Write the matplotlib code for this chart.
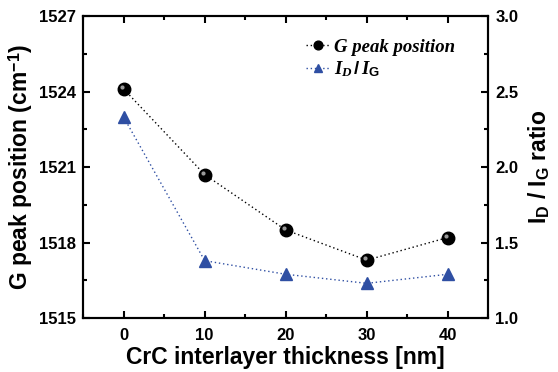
import matplotlib.pyplot as plt
from matplotlib.ticker import MultipleLocator
from matplotlib.transforms import ScaledTranslation

plt.rcParams['font.family'] = 'Liberation Sans'
plt.rcParams['font.weight'] = 'bold'
plt.rcParams['mathtext.fontset'] = 'custom'
plt.rcParams['mathtext.rm'] = 'Liberation Sans:bold'
plt.rcParams['mathtext.it'] = 'Liberation Serif:italic:bold'
plt.rcParams['mathtext.bf'] = 'Liberation Sans:bold'
plt.rcParams['mathtext.sf'] = 'Liberation Sans'

thickness = [0, 10, 20, 30, 40]
g_peak = [1524.1, 1520.7, 1518.5, 1517.3, 1518.2]
id_ig = [2.33, 1.38, 1.29, 1.23, 1.29]

blue = "#2f4fa3"

fig = plt.figure(figsize=(5.58, 3.72), dpi=100)
ax1 = fig.add_axes([0.149, 0.145, 0.726, 0.812])
ax2 = ax1.twinx()

l1, = ax1.plot(thickness, g_peak, color="black", linestyle=(0, (1, 2)), linewidth=1,
               marker="o", markersize=9, markerfacecolor="black", markeredgecolor="black",
               label="G peak position")
# small highlight on the spheres, shifted up-left
shift = ScaledTranslation(-1.2 / 72, 1.2 / 72, fig.dpi_scale_trans)
ax1.plot(thickness, g_peak, linestyle="none", marker="o", markersize=3,
         markerfacecolor="#9a9a9a", markeredgecolor="none",
         transform=ax1.transData + shift)
l2, = ax2.plot(thickness, id_ig, color=blue, linestyle=(0, (1, 2)), linewidth=1,
               marker="^", markersize=9, markerfacecolor=blue, markeredgecolor=blue,
               label=r"$\mathit{I}_{\mathit{D}}\,\mathit{/}\,\mathit{I}_{\mathsf{G}}$")

ax1.set_xlim(-5, 45)
ax1.set_ylim(1515, 1527)
ax2.set_ylim(1.0, 3.0)

ax1.xaxis.set_major_locator(MultipleLocator(10))
ax1.xaxis.set_minor_locator(MultipleLocator(5))
ax1.yaxis.set_major_locator(MultipleLocator(3))
ax1.yaxis.set_minor_locator(MultipleLocator(1.5))
ax2.yaxis.set_major_locator(MultipleLocator(0.5))
ax2.yaxis.set_minor_locator(MultipleLocator(0.25))

for ax in (ax1, ax2):
    for s in ax.spines.values():
        s.set_linewidth(1.5)

ax1.tick_params(which="both", direction="in", top=True, width=1.5, labelsize=12, pad=5)
ax1.tick_params(axis="x", pad=7)
ax1.tick_params(which="major", length=5)
ax1.tick_params(which="minor", length=3)
ax2.tick_params(which="both", direction="in", width=1.5, labelsize=12, pad=5)
ax2.tick_params(which="major", length=5)
ax2.tick_params(which="minor", length=3)

for lab in ax1.get_xticklabels() + ax1.get_yticklabels() + ax2.get_yticklabels():
    lab.set_fontweight("bold")

ax1.set_xlabel("CrC interlayer thickness [nm]", fontsize=16.5, fontweight="bold", labelpad=2)
ax1.set_ylabel(r"G peak position (cm$^{\mathbf{-1}}$)", fontsize=16.5, fontweight="bold", labelpad=3)
ax2.set_ylabel(r"I$_{\mathbf{D}}$ / I$_{\mathbf{G}}$ ratio", fontsize=16.5, fontweight="bold", labelpad=6)

leg = ax1.legend([l1, l2], ["G peak position", l2.get_label()], loc="upper right",
                 bbox_to_anchor=(0.96, 0.98), frameon=False, handlelength=1.3,
                 handletextpad=0.2, labelspacing=0.2, markerscale=0.7,
                 prop={"family": "Liberation Serif", "style": "italic", "weight": "bold", "size": 13.5})

fig.savefig("out.png", dpi=100)
